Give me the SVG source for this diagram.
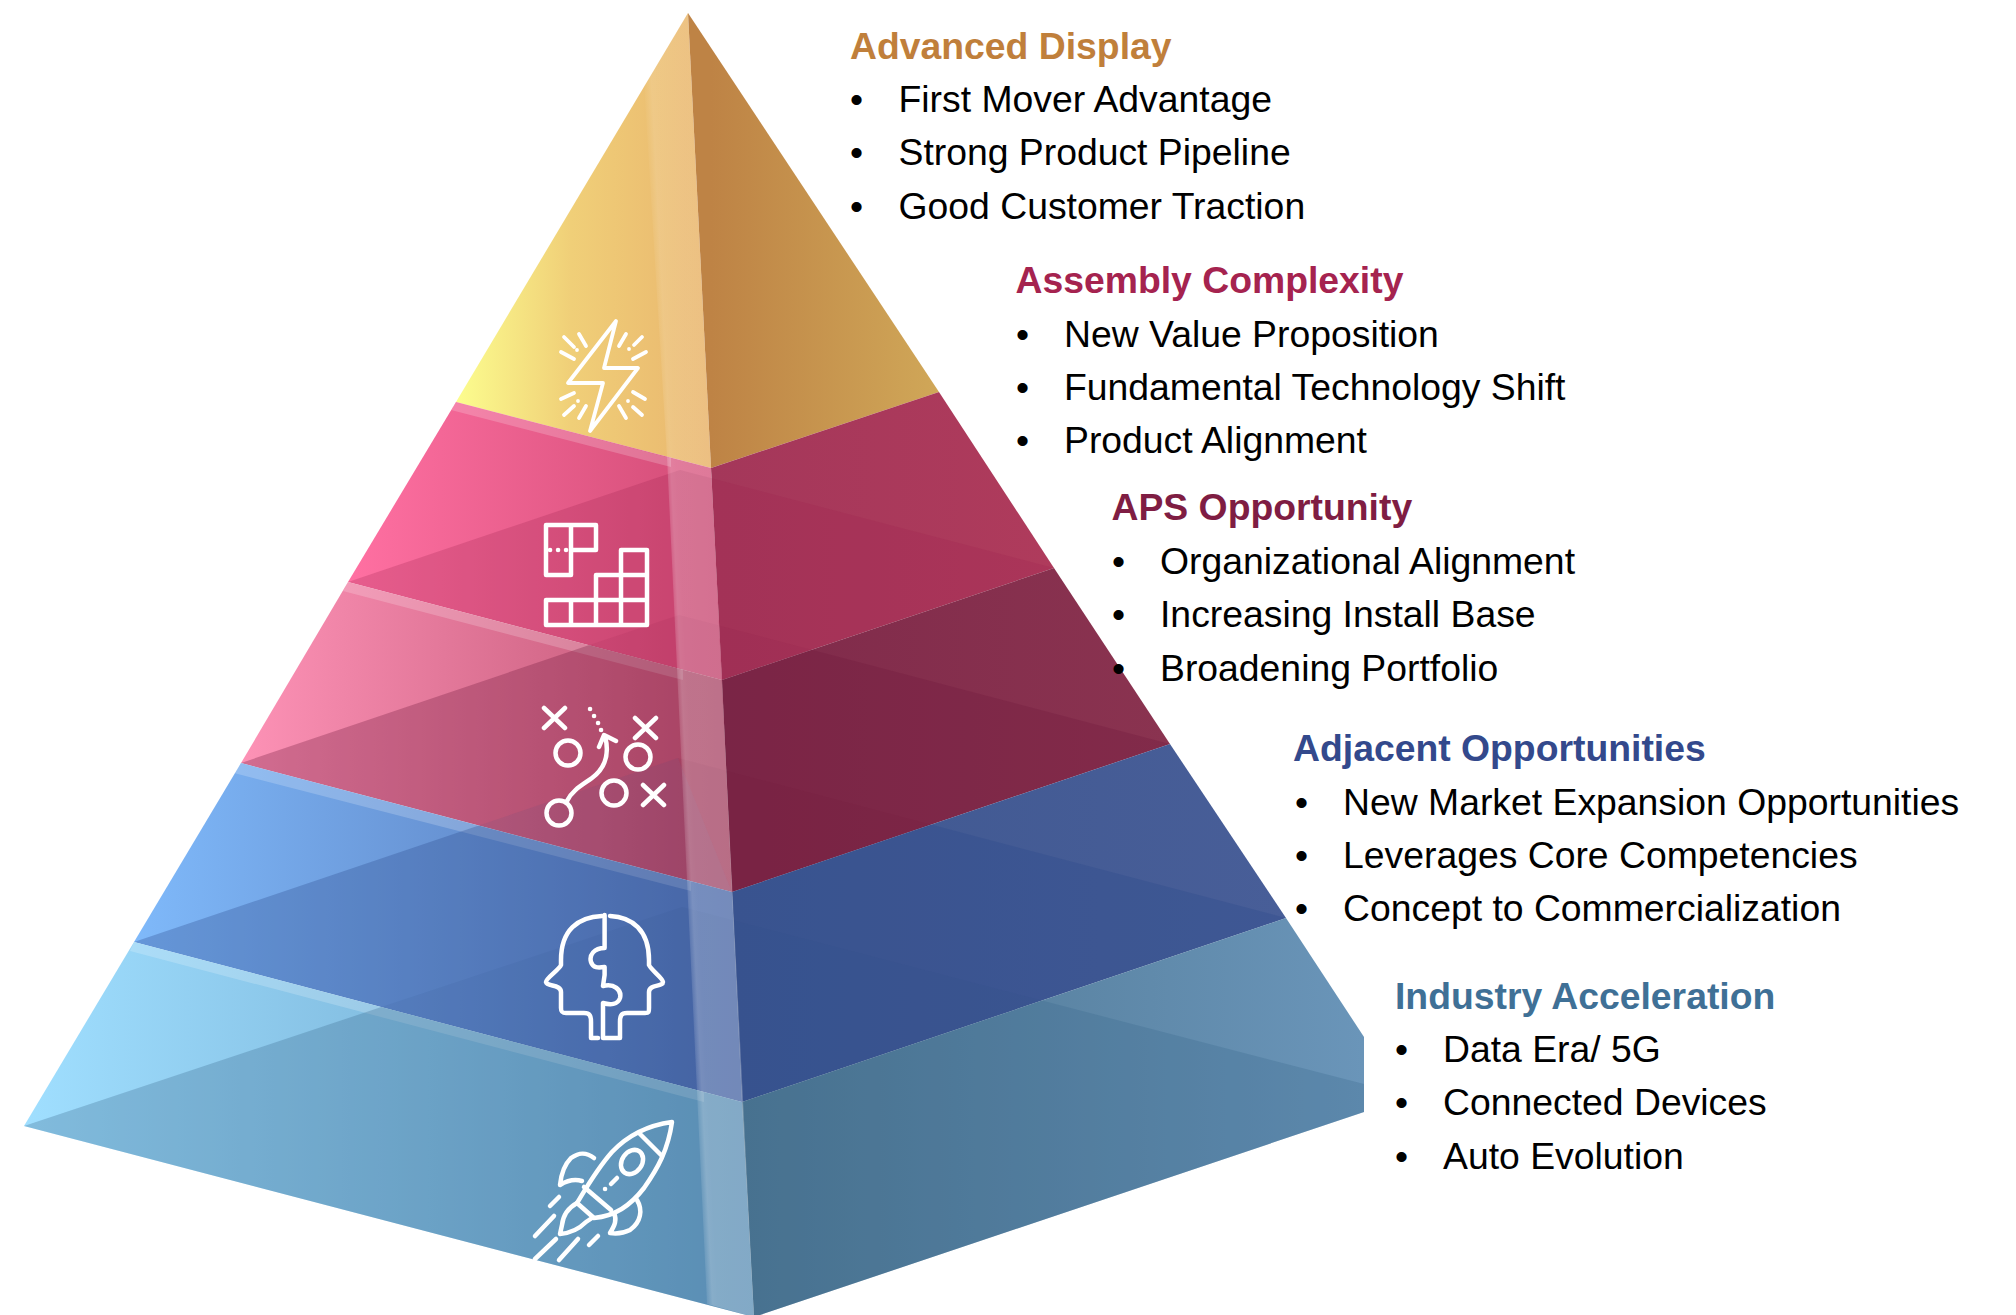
<svg xmlns="http://www.w3.org/2000/svg" width="2016" height="1315" viewBox="0 0 2016 1315">
<style>
text{font-family:"Liberation Sans",Arial,sans-serif}
.t{font-size:37.33px;font-weight:700}
.b{font-size:37.33px;fill:#000}
.i{fill:none;stroke:#fff;stroke-width:4.5;stroke-linecap:round;stroke-linejoin:round}
.band{fill:#fff;fill-opacity:.2}
.tip{fill-opacity:.09}
</style>
<defs>
<linearGradient id="y1" gradientUnits="userSpaceOnUse" x1="456" y1="0" x2="711" y2="0"><stop offset="0" stop-color="#FCFD8E"/><stop offset=".45" stop-color="#F0CF78"/><stop offset="1" stop-color="#E9B56E"/></linearGradient>
<linearGradient id="y2" gradientUnits="userSpaceOnUse" x1="711" y1="0" x2="939" y2="0"><stop offset="0" stop-color="#BE8345"/><stop offset="1" stop-color="#D0A758"/></linearGradient>
<linearGradient id="p1" gradientUnits="userSpaceOnUse" x1="348" y1="0" x2="722" y2="0"><stop offset="0" stop-color="#FF70A2"/><stop offset="1" stop-color="#D24C76"/></linearGradient>
<linearGradient id="p2" gradientUnits="userSpaceOnUse" x1="711" y1="0" x2="1054" y2="0"><stop offset="0" stop-color="#A4375A"/><stop offset="1" stop-color="#AF3B5C"/></linearGradient>
<linearGradient id="r1" gradientUnits="userSpaceOnUse" x1="241" y1="0" x2="732" y2="0"><stop offset="0" stop-color="#FD92B6"/><stop offset="1" stop-color="#BE5372"/></linearGradient>
<linearGradient id="r2" gradientUnits="userSpaceOnUse" x1="722" y1="0" x2="1170" y2="0"><stop offset="0" stop-color="#7F2A4A"/><stop offset="1" stop-color="#8A3350"/></linearGradient>
<linearGradient id="b1" gradientUnits="userSpaceOnUse" x1="134" y1="0" x2="742" y2="0"><stop offset="0" stop-color="#7FB9FA"/><stop offset="1" stop-color="#5270B0"/></linearGradient>
<linearGradient id="b2" gradientUnits="userSpaceOnUse" x1="732" y1="0" x2="1286" y2="0"><stop offset="0" stop-color="#3F5891"/><stop offset="1" stop-color="#485E98"/></linearGradient>
<linearGradient id="c1" gradientUnits="userSpaceOnUse" x1="24" y1="0" x2="754" y2="0"><stop offset="0" stop-color="#A0DFFF"/><stop offset="1" stop-color="#669CC3"/></linearGradient>
<linearGradient id="c2" gradientUnits="userSpaceOnUse" x1="742" y1="0" x2="1364" y2="0"><stop offset="0" stop-color="#4D7590"/><stop offset="1" stop-color="#6A95B9"/></linearGradient>
<linearGradient id="hl" gradientUnits="userSpaceOnUse" x1="669" y1="600" x2="683" y2="599.3"><stop offset="0" stop-color="#fff" stop-opacity="0"/><stop offset=".6" stop-color="#fff" stop-opacity=".27"/><stop offset="1" stop-color="#fff" stop-opacity=".25"/></linearGradient>
</defs>

<g id="layer-advanced-display">
<polygon points="688,13 711,468 456,402" fill="url(#y1)"/>
<polygon points="688,13 939,392 711,468" fill="url(#y2)"/>
</g>
<g id="layer-assembly-complexity">
<polygon points="456,402 711,468 722,680 348,582" fill="url(#p1)"/>
<polygon points="711,468 939,392 1054,568 722,680" fill="url(#p2)"/>
<polygon class="band" points="456,402 671,458 671,467 451,410"/>
<polygon points="348,582 680,470 1054,568 722,680" fill="#A02450" fill-opacity=".25"/>
</g>
<g id="layer-aps-opportunity">
<polygon points="348,582 722,680 732,892 241,763" fill="url(#r1)"/>
<polygon points="722,680 1054,568 1170,744 732,892" fill="url(#r2)"/>
<polygon class="band" points="348,582 683,670 683,680 343,591"/>
<polygon points="241,763 589.4,645 722,680 811.6,649.8 1170,744 732,892" fill="#701A3C" fill-opacity=".31"/>
<polygon class="tip" points="589.4,645 679,615 811.6,649.8 722,680" fill="#8A1A40"/>
</g>
<g id="layer-adjacent-opportunities">
<polygon points="241,763 732,892 742,1102 134,942" fill="url(#b1)"/>
<polygon points="732,892 1170,744 1286,918 742,1102" fill="url(#b2)"/>
<polygon class="band" points="241,763 691,881 691,891 234,773"/>
<polygon points="134,942 478.8,825.5 732,892 931,824.6 1286,918 742,1102" fill="#2A4A8A" fill-opacity=".3"/>
<polygon class="tip" points="478.8,825.5 678,758 732,892" fill="#2A4A8A" fill-opacity=".3"/>
<polygon class="tip" points="678,758 931,824.6 732,892" fill="#6A1638"/>
</g>
<g id="layer-industry-acceleration">
<polygon points="134,942 742,1102 754,1317 24,1126" fill="url(#c1)"/>
<polygon points="742,1102 1286,918 1364,1037 1364,1112 754,1317" fill="url(#c2)"/>
<polygon class="band" points="134,942 704,1092 704,1102 130,951"/>
<polygon points="24,1126 381.4,1007 742,1102 1042,1000.6 1364,1084 1364,1112 754,1317" fill="#3A6A90" fill-opacity=".3"/>
<polygon class="tip" points="381.4,1007 682,907 1042,1000.6 742,1102" fill="#2A4A8A"/>
</g>
<polygon id="highlight-top" points="688,13 711,468 667,456.6 644,84" fill="url(#hl)" fill-opacity=".55"/>
<polygon id="highlight" points="711,468 754,1317 707,1304 667,456.6" fill="url(#hl)"/>

<g id="icon-lightning" class="i" style="stroke-width:3.8">
<polygon points="616,321 568,383 603,383 590,431 638,368 604,368"/>
<path d="M564,337L574,347M579,334L586,346M561,352L574,359M577,350v.1M626,334L619,346M642,337L634,345M646,352L633,359M629,349v.1M574,393L561,399M574,406L564,415M586,406L579,418M578,401v.1M633,392L645,399M633,407L642,415M619,406L626,418M628,401v.1"/>
</g>
<g id="icon-grid" class="i">
<path d="M546,525H596V550H571V575H546ZM571,525V550M621,550H647V625H546V600H596V575H621ZM621,550V625M596,600V625M571,600V625M596,600H647M621,575H647"/>
<path d="M550,550h.1M558,550h.1M566,550h.1"/>
</g>
<g id="icon-play" class="i">
<path d="M544,708L565,728M565,708L544,728M635,718L656,738M656,718L635,738M643,785L664,805M664,785L643,805"/>
<circle cx="568" cy="753" r="12.5"/><circle cx="638" cy="757" r="12.5"/><circle cx="614" cy="793" r="12.5"/><circle cx="559" cy="813" r="12.5"/>
<path d="M567,801C572,790 584,784 592,778C604,769 610,755 605,736M599,747L604,735L616,741"/>
<path d="M590,709h.1M594,716h.1M598,723h.1M601,730h.1"/>
</g>
<g id="icon-head" class="i">
<path d="M602,916C578,917 561,930 561,960V965C559,970 546,978 546,982C547,987 561,984 561,992V1008C561,1012 562,1013 566,1013H584C590,1013 591,1016 591,1022V1038H598"/>
<path d="M604.6,915V948C594,948 589,955 591,962C593,968 598,968 604.6,967V975L603,986C614,983 622,990 620,998C618,1005 610,1005 603,1003V1038H620V1022C620,1016 621,1013 627,1013H645C649,1013 649,1012 649,1008V992C649,984 663,987 663,982C663,978 651,970 649,965V960C649,930 632,917 610,916"/>
</g>
<g id="icon-rocket" class="i">
<path d="M672,1122C650,1125 630,1133 612,1152C596,1170 582,1195 577,1203L594,1218C615,1216 630,1206 644,1188C658,1168 668,1150 672,1122Z"/>
<path d="M639,1133L662,1156M584,1187L611,1210"/>
<ellipse cx="632" cy="1162" rx="10" ry="13" transform="rotate(35 632 1162)"/>
<path d="M617,1178L611,1184M605,1189h.1"/>
<path d="M594,1158C585,1151 578,1153 571,1158C564,1165 561,1175 560,1185C568,1180 575,1179 582,1181"/>
<path d="M637,1200C643,1210 641,1222 630,1230C624,1233 617,1234 610,1233C615,1225 617,1220 614,1213"/>
<path d="M577,1203C568,1208 563,1216 562,1225L560,1234C572,1233 580,1228 586,1222L592,1218"/>
<path d="M559,1197L550,1206M554,1216L535,1236M578,1239L559,1260M598,1236L589,1245M556,1239L535,1259"/>
</g>

<g id="text-advanced-display">
<text class="t" x="850" y="59" fill="#C07F3B">Advanced Display</text>
<text class="b" x="850" y="112">•</text><text class="b" x="898.5" y="112">First Mover Advantage</text>
<text class="b" x="850" y="165">•</text><text class="b" x="898.5" y="165">Strong Product Pipeline</text>
<text class="b" x="850" y="219">•</text><text class="b" x="898.5" y="219">Good Customer Traction</text>
</g>
<g id="text-assembly-complexity">
<text class="t" x="1015.5" y="293" fill="#A5234F">Assembly Complexity</text>
<text class="b" x="1016" y="347">•</text><text class="b" x="1064" y="347">New Value Proposition</text>
<text class="b" x="1016" y="400">•</text><text class="b" x="1064" y="400">Fundamental Technology Shift</text>
<text class="b" x="1016" y="453">•</text><text class="b" x="1064" y="453">Product Alignment</text>
</g>
<g id="text-aps-opportunity">
<text class="t" x="1111.5" y="520" fill="#7F1D43">APS Opportunity</text>
<text class="b" x="1112" y="574">•</text><text class="b" x="1160" y="574">Organizational Alignment</text>
<text class="b" x="1112" y="627">•</text><text class="b" x="1160" y="627">Increasing Install Base</text>
<text class="b" x="1112" y="681">•</text><text class="b" x="1160" y="681">Broadening Portfolio</text>
</g>
<g id="text-adjacent-opportunities">
<text class="t" x="1293" y="761" fill="#33498C">Adjacent Opportunities</text>
<text class="b" x="1295" y="815">•</text><text class="b" x="1343" y="815">New Market Expansion Opportunities</text>
<text class="b" x="1295" y="868">•</text><text class="b" x="1343" y="868">Leverages Core Competencies</text>
<text class="b" x="1295" y="921">•</text><text class="b" x="1343" y="921">Concept to Commercialization</text>
</g>
<g id="text-industry-acceleration">
<text class="t" x="1395" y="1009" fill="#3F7096">Industry Acceleration</text>
<text class="b" x="1395" y="1062">•</text><text class="b" x="1443" y="1062">Data Era/ 5G</text>
<text class="b" x="1395" y="1115">•</text><text class="b" x="1443" y="1115">Connected Devices</text>
<text class="b" x="1395" y="1169">•</text><text class="b" x="1443" y="1169">Auto Evolution</text>
</g>
</svg>
